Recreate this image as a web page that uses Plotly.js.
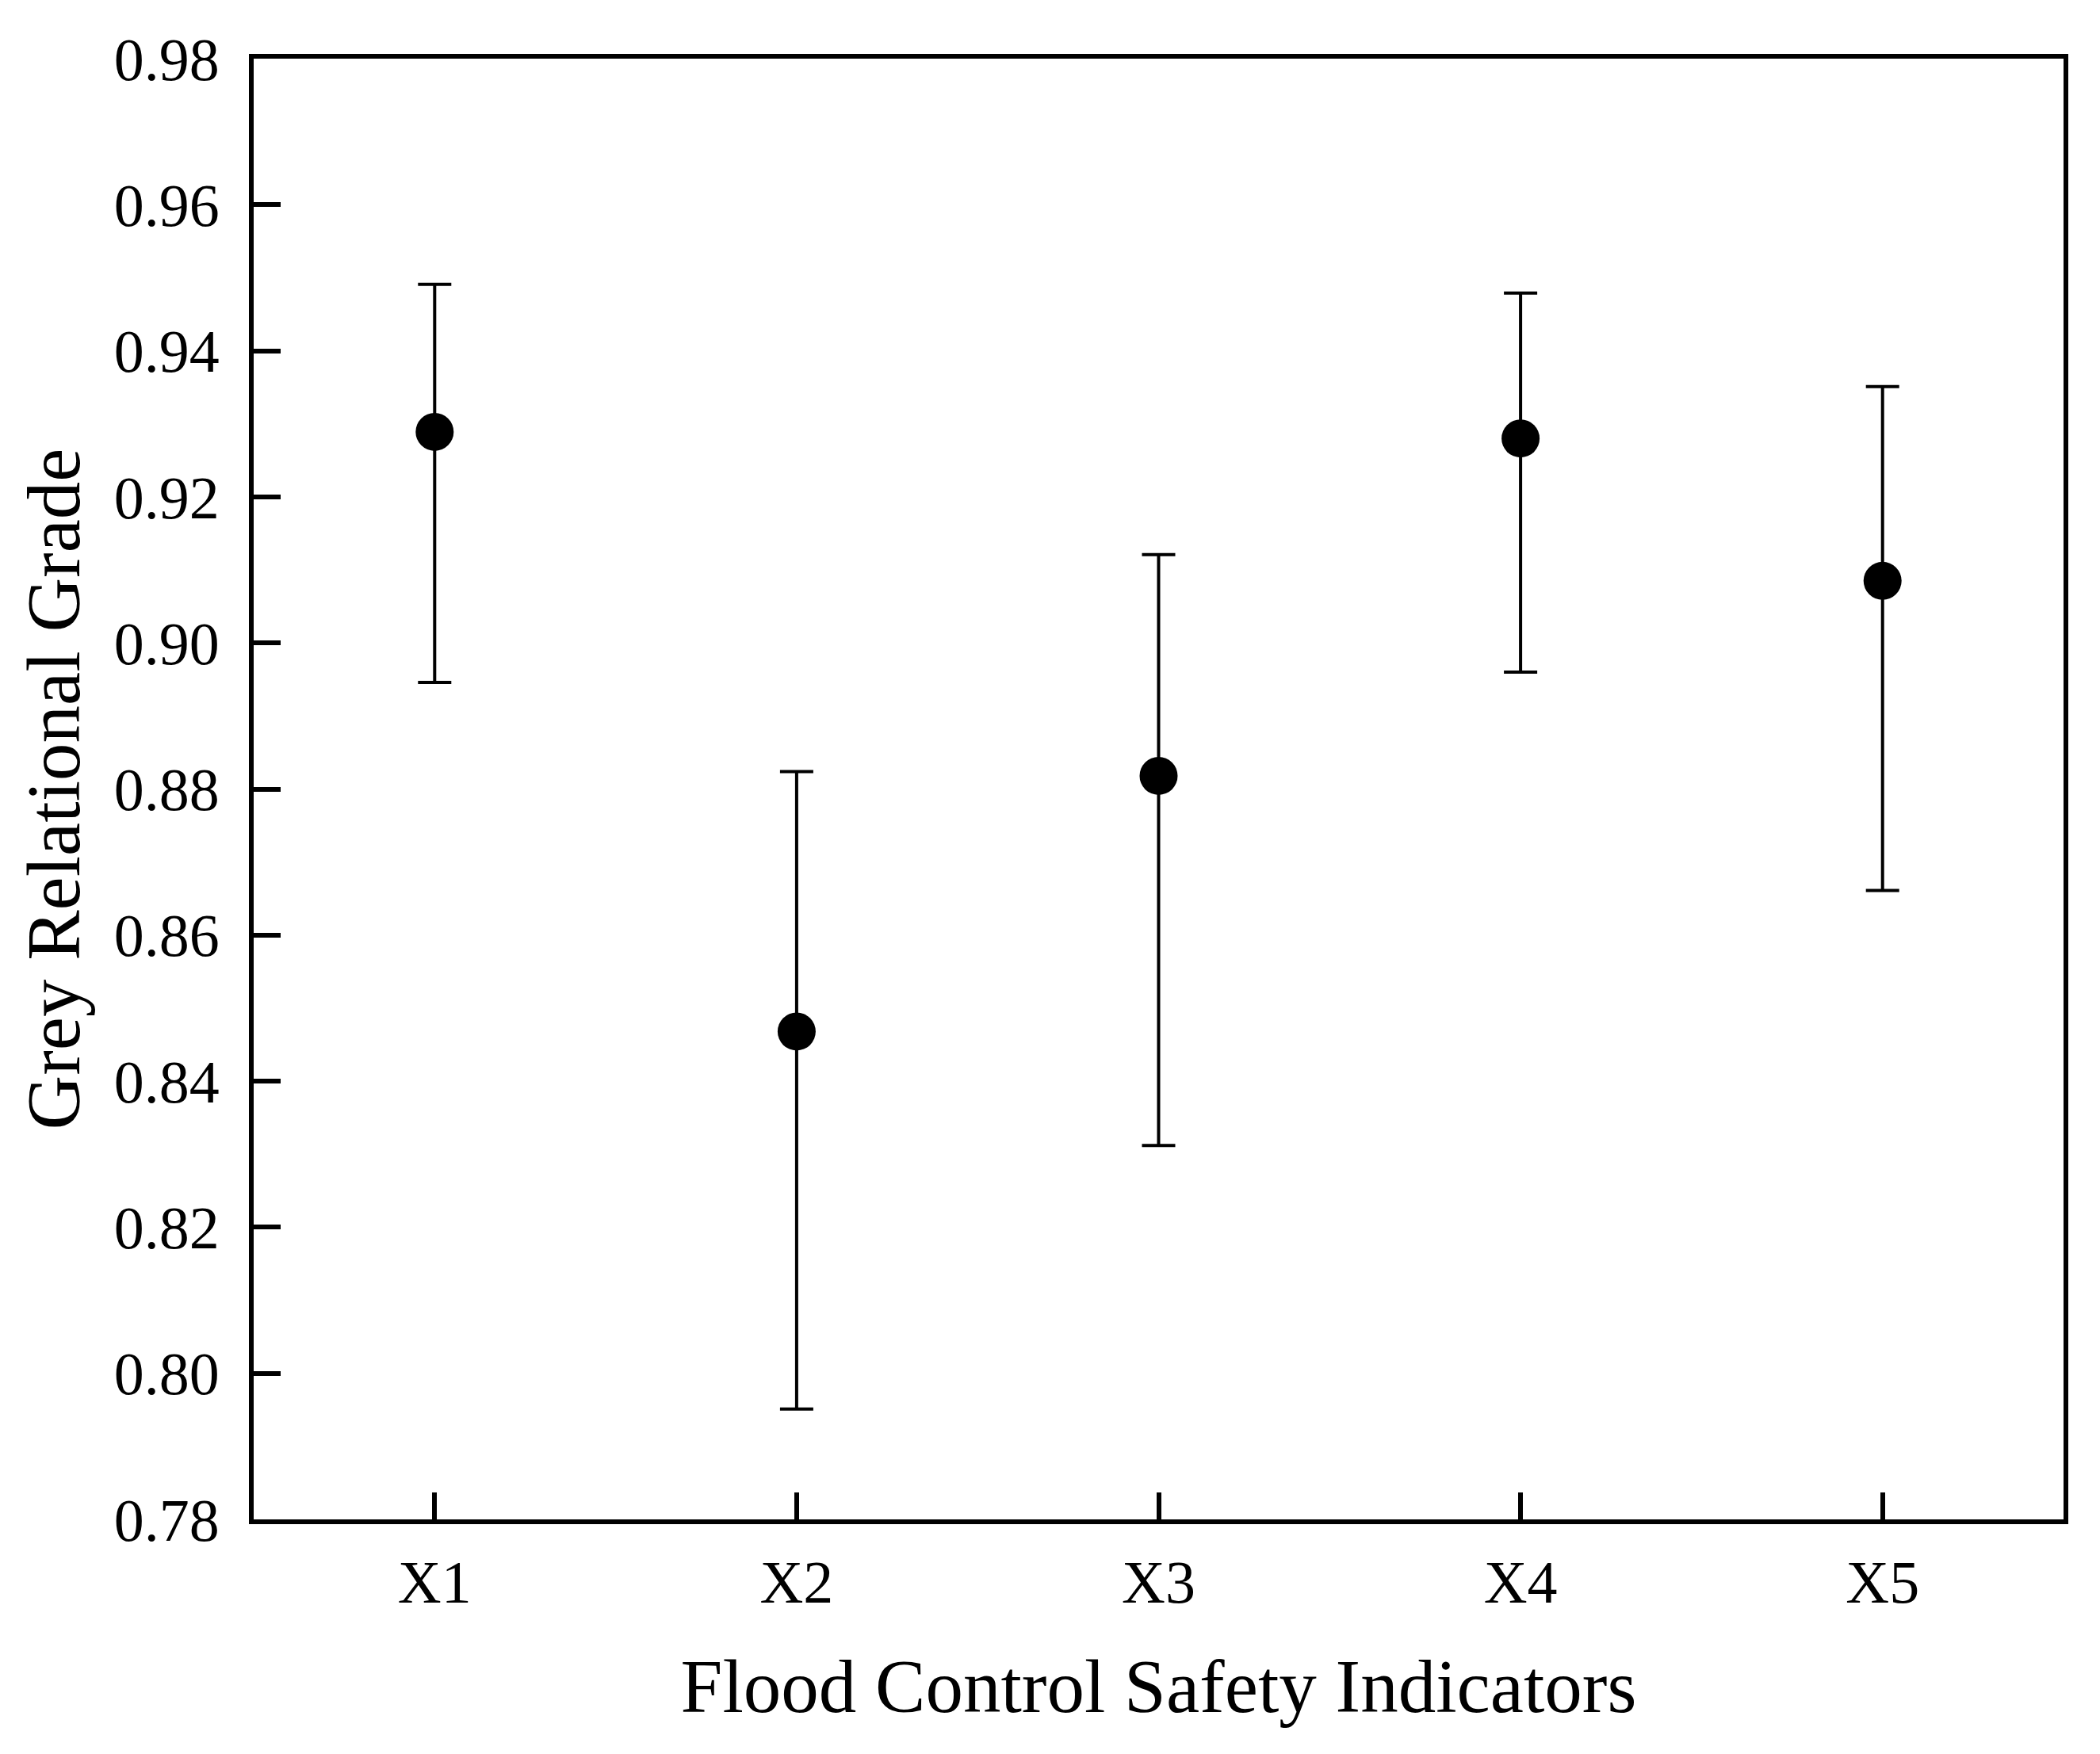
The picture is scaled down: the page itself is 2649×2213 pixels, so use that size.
<!DOCTYPE html>
<html>
<head>
<meta charset="utf-8">
<script src="https://cdn.plot.ly/plotly-3.0.1.min.js"></script>
<style>
  html, body { margin: 0; padding: 0; background: #ffffff; }
  #chart { width: 2649px; height: 2213px; }
</style>
</head>
<body>
<div id="chart"></div>
<script>
// Data
const indicators = ["X1", "X2", "X3", "X4", "X5"];
const grade      = [0.9289, 0.8468, 0.8818, 0.9280, 0.9085];
const upperBound = [0.9491, 0.8824, 0.9121, 0.9479, 0.9351];
const lowerBound = [0.8946, 0.7951, 0.8312, 0.8960, 0.8661];
const yTickValues = [0.78, 0.80, 0.82, 0.84, 0.86, 0.88, 0.90, 0.92, 0.94, 0.96, 0.98];
const yTickLabels = ["0.78", "0.80", "0.82", "0.84", "0.86", "0.88", "0.90", "0.92", "0.94", "0.96", "0.98"];

const errPlus  = upperBound.map((u, i) => u - grade[i]);
const errMinus = lowerBound.map((l, i) => grade[i] - l);

const FONT = "Liberation Serif, Times New Roman, serif";

const trace = {
  type: "scatter",
  mode: "markers",
  x: indicators,
  y: grade,
  marker: { color: "#000000", size: 48, symbol: "circle" },
  error_y: {
    type: "data",
    symmetric: false,
    array: errPlus,
    arrayminus: errMinus,
    color: "#000000",
    thickness: 4,
    width: 21
  },
  hoverinfo: "skip",
  showlegend: false
};

const layout = {
  width: 2649,
  height: 2213,
  paper_bgcolor: "#ffffff",
  plot_bgcolor: "#ffffff",
  margin: { l: 320, r: 46, t: 74, b: 296, pad: 0 },
  font: { family: FONT, color: "#000000", size: 76 },
  showlegend: false,
  xaxis: {
    type: "category",
    range: [-0.5, 4.5],
    showgrid: false,
    zeroline: false,
    showline: true,
    linecolor: "#000000",
    linewidth: 6,
    mirror: true,
    ticks: "inside",
    ticklen: 34,
    tickwidth: 6,
    tickcolor: "#000000",
    tickfont: { family: FONT, size: 76, color: "#000000" },
    ticklabelstandoff: 8,
    title: {
      text: "Flood Control Safety Indicators",
      font: { family: FONT, size: 95, color: "#000000" },
      standoff: 58
    },
    fixedrange: true
  },
  yaxis: {
    range: [0.78, 0.98],
    tickmode: "array",
    tickvals: yTickValues,
    ticktext: yTickLabels,
    showgrid: false,
    zeroline: false,
    showline: true,
    linecolor: "#000000",
    linewidth: 6,
    mirror: true,
    ticks: "inside",
    ticklen: 34,
    tickwidth: 6,
    tickcolor: "#000000",
    tickfont: { family: FONT, size: 76, color: "#000000" },
    ticklabelstandoff: 22,
    title: {
      text: "Grey Relational Grade",
      font: { family: FONT, size: 95, color: "#000000" },
      standoff: 14
    },
    fixedrange: true
  }
};

Plotly.newPlot("chart", [trace], layout, { displayModeBar: false, staticPlot: true });
</script>
</body>
</html>
